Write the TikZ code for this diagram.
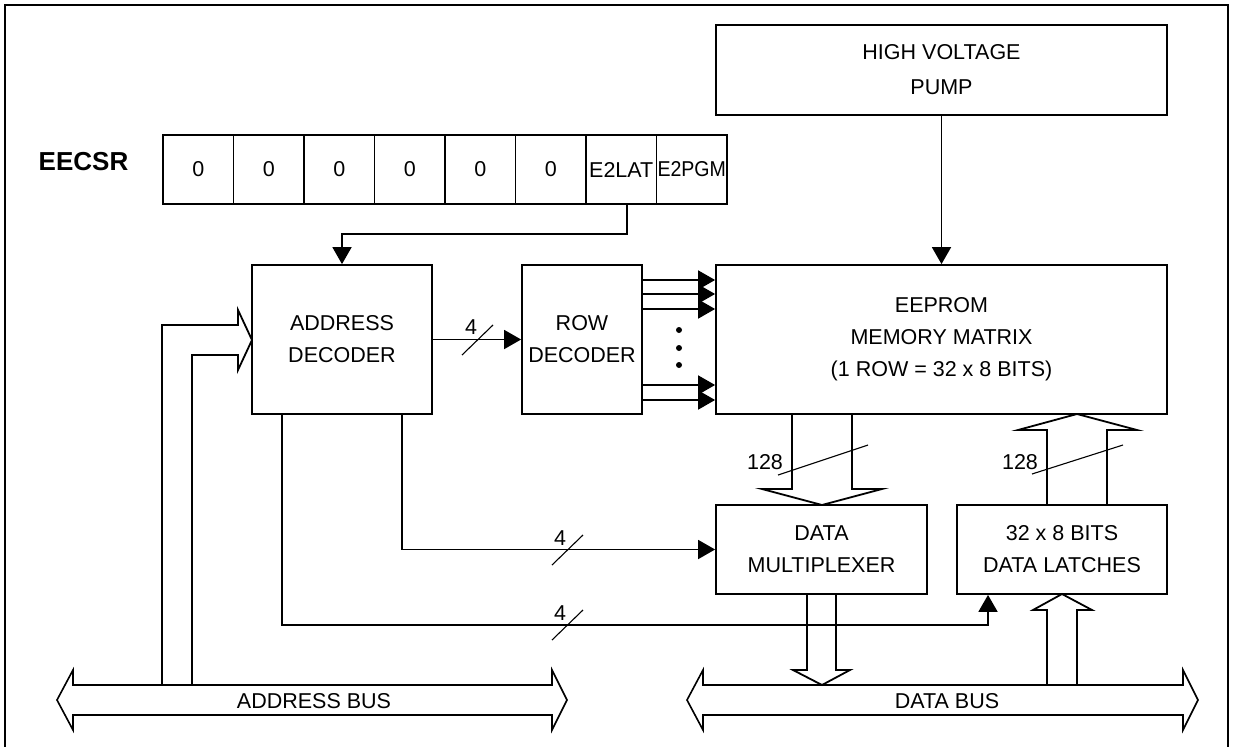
\documentclass[tikz,border=0pt]{standalone}
\usepackage{fontspec}
\usepackage{graphicx}
\setmainfont{Liberation Sans}
\usetikzlibrary{arrows.meta}
\begin{document}
\begin{tikzpicture}[x=1pt,y=-1pt, line width=1.8pt,
  box/.style={draw, line width=1.8pt, inner sep=0pt, align=center, font=\fontsize{21.5}{32}\selectfont},
  cell/.style={draw, line width=1.8pt, inner sep=0pt, minimum width=70.5pt, minimum height=69pt},
  lbl/.style={inner sep=0pt, font=\fontsize{21.5}{26}\selectfont},
  arr/.style={-{Triangle[length=17pt,width=19pt]}, line width=1.8pt},
  slash/.style={line width=1.1pt},
  hollow/.style={line width=1.8pt, line join=miter},
  bus/.style={line width=1.6pt, line join=miter}]
\useasboundingbox (0,0) rectangle (1237,747);
% outer frame
\draw (5,747) -- (5,5) -- (1228,5) -- (1228,747);
% boxes
\node[box, minimum width=451pt, minimum height=90pt, font=\fontsize{21.5}{35}\selectfont] (pump) at (941.5,70) {HIGH VOLTAGE\\PUMP};
\node[box, minimum width=451pt, minimum height=149pt] (eeprom) at (941.5,339.5) {EEPROM\\MEMORY MATRIX\\(1 ROW = 32 x 8 BITS)};
\node[box, minimum width=180pt, minimum height=149pt] (addr) at (342,339.5) {ADDRESS\\DECODER};
\node[box, minimum width=120pt, minimum height=149pt] (row) at (582,339.5) {ROW\\DECODER};
\node[box, minimum width=211pt, minimum height=89pt] (mux) at (821.5,549.5) {DATA\\MULTIPLEXER};
\node[box, minimum width=210pt, minimum height=89pt] (latch) at (1062,549.5) {32 x 8 BITS\\DATA LATCHES};
% register
\node[inner sep=0pt, font=\bfseries\fontsize{26}{30}\selectfont] (eecsr) at (83.5,162) {EECSR};
\foreach \i in {0,...,7} {
  \node[cell] (c\i) at ({198.25+70.5*\i},169.5) {};
}
\foreach \i in {0,...,5} {
  \node[lbl] (t\i) at (c\i) {0};
}
\node[lbl] (t6) at (c6) {E2LAT};
\node[lbl] (t7) at (c7) {\scalebox{0.91}[1]{E2PGM}};
% E2LAT -> address decoder
\coordinate (e2l) at (627,234);
\draw[arr] (c6.south -| e2l) -- (e2l) -| (addr.north);
% pump -> eeprom
\draw[arr] (pump.south) -- (eeprom.north);
% address decoder -> row decoder
\draw[arr] (addr.east) -- (row.west);
\draw[slash] (462,355) -- (493,325);
\node[lbl] (n4a) at (471,327) {4};
% row decoder -> eeprom
\foreach \y in {280,294,309,385,400} {
  \coordinate (ry) at (0,\y);
  \draw[arr] (row.east |- ry) -- (eeprom.west |- ry);
}
\foreach \y in {330,348,365} { \fill (679,\y) circle (3pt); }
% address decoder -> mux
\coordinate (m1) at (402,550);
\draw[arr] (addr.south -| m1) |- (mux.west);
\draw[slash] (552,565) -- (583,535);
\node[lbl] (n4b) at (560,538) {4};
% address decoder -> latches
\coordinate (l1) at (282,625);
\coordinate (l2) at (988,594);
\draw[arr] (addr.south -| l1) |- (l1 -| l2) -- (latch.south -| l2);
\draw[slash] (552,640) -- (583,610);
\node[lbl] (n4c) at (560,613) {4};
% eeprom -> mux (hollow)
\draw[hollow] (792,414) -- (792,489) -- (762,489) -- (822,505) -- (882,489) -- (852,489) -- (852,414);
\draw[slash] (778,475) -- (868,445);
\node[lbl] (n128a) at (765,462) {128};
% latches -> eeprom (hollow)
\draw[hollow] (1047,505) -- (1047,430) -- (1018,430) -- (1077,414) -- (1137,430) -- (1107,430) -- (1107,505);
\draw[slash] (1032,474) -- (1123,445);
\node[lbl] (n128b) at (1020,462) {128};
% address bus -> address decoder (hollow)
\draw[hollow] (162,685) -- (162,325) -- (238,325) -- (238,310) -- (252,340) -- (238,370) -- (238,355) -- (192,355) -- (192,685);
% mux -> data bus
\draw[hollow] (807,594) -- (807,670) -- (793,670) -- (822,685) -- (850,670) -- (836,670) -- (836,594);
% data bus -> latches
\draw[hollow] (1047,685) -- (1047,610) -- (1033,610) -- (1062,594) -- (1092,610) -- (1077,610) -- (1077,685);
% buses
\draw[bus] (73,685) -- (552,685) -- (552,670) -- (567,700) -- (552,730) -- (552,715) -- (73,715) -- (73,730) -- (57,700) -- (73,670) -- cycle;
\node[lbl] (abus) at (314,701) {ADDRESS BUS};
\draw[bus] (703,685) -- (1183,685) -- (1183,670) -- (1198,700) -- (1183,730) -- (1183,715) -- (703,715) -- (703,730) -- (687,700) -- (703,670) -- cycle;
\node[lbl] (dbus) at (947,701) {DATA BUS};
\end{tikzpicture}
\end{document}
